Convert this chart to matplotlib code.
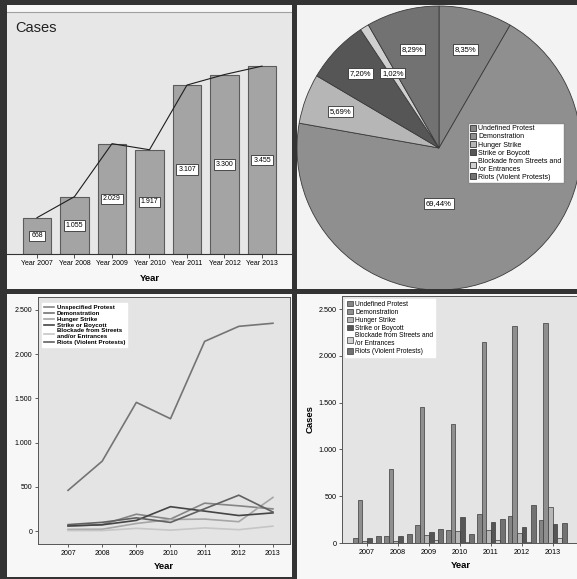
import numpy as np
import matplotlib.pyplot as plt
from matplotlib.patches import Rectangle
from matplotlib.ticker import FuncFormatter

plt.rcParams['font.family'] = ['Liberation Sans', 'DejaVu Sans']

# --- data ---
years = [2007, 2008, 2009, 2010, 2011, 2012, 2013]
year_labels = ["Year 2007", "Year 2008", "Year 2009", "Year 2010", "Year 2011", "Year 2012", "Year 2013"]
total_cases = [668, 1055, 2029, 1917, 3107, 3300, 3455]

categories = ["Undefined Protest", "Demonstration", "Hunger Strike", "Strike or Boycott",
              "Blockade from Streets and\n/or Entrances", "Riots (Violent Protests)"]
line_labels = ["Unspecified Protest", "Demonstration", "Hunger Strike", "Strike or Boycott",
               "Blockade from Streets\nand/or Entrances", "Riots (Violent Protests)"]

undefined = [55, 72, 190, 135, 315, 285, 250]
demonstration = [460, 790, 1455, 1270, 2145, 2315, 2350]
hunger = [18, 20, 85, 130, 135, 105, 380]
strike = [58, 70, 120, 275, 225, 175, 205]
blockade = [5, 5, 30, 10, 35, 15, 55]
riots = [72, 98, 149, 97, 252, 405, 215]

pie_share = [8.35, 69.44, 5.69, 7.20, 1.02, 8.29]

# --- styles ---
fill_colors = ['#858585', '#8f8f8f', '#b6b6b6', '#565656', '#d0d0d0', '#727272']
line_colors = ['#858585', '#747474', '#a6a6a6', '#444444', '#c6c6c6', '#616161']
dark = '#333333'

W, H = 577, 579
fig = plt.figure(figsize=(W / 100, H / 100), dpi=100, facecolor=dark)


def box(l, t, r, b):
    return [l / W, 1 - b / H, (r - l) / W, (b - t) / H]


def rect(l, t, r, b, color, z):
    fig.add_artist(Rectangle((l / W, 1 - b / H), (r - l) / W, (b - t) / H,
                             transform=fig.transFigure, facecolor=color,
                             edgecolor='none', zorder=z))


def thousands(v, pos=None):
    return f"{int(round(v)):,}".replace(",", ".")


# panel backgrounds
rect(7, 5, 292, 289, '#f7f7f7', -1)
rect(297, 4, 577, 289, '#f3f3f3', -1)
rect(7, 294, 292, 577, '#f7f7f7', -1)
rect(297, 294, 577, 579, '#f7f7f7', -1)

# ============================================================
# 1. total cases per year (top left)
# ============================================================
ax1 = fig.add_axes(box(7, 12, 292, 254))
ax1.set_facecolor('#e7e7e7')
x = np.arange(len(years))
ax1.bar(x, total_cases, width=0.77, color='#a4a4a4', edgecolor='#5c5c5c', linewidth=0.8)
ax1.plot(x, total_cases, color='#1e1e1e', lw=0.8)
for xi, v in zip(x, total_cases):
    ax1.text(xi, v / 2, thousands(v), ha='center', va='center', fontsize=5,
             bbox=dict(boxstyle='square,pad=0.25', fc='white', ec='#333333', lw=0.6))
ax1.set_xlim(-0.8, 6.8)
ax1.set_ylim(0, 4450)
ax1.set_xticks(x, year_labels, fontsize=5)
ax1.set_yticks([])
ax1.spines['left'].set_visible(False)
ax1.spines['right'].set_visible(False)
ax1.spines['top'].set_color('#a0a0a0')
ax1.spines['top'].set_linewidth(0.8)
ax1.spines['bottom'].set_color('#333333')
ax1.tick_params(axis='x', length=3, width=0.6, pad=1.5, color='#333333')
ax1.set_xlabel("Year", fontsize=6.8, fontweight='bold', labelpad=5)
ax1.text(0.028, 0.935, "Cases", transform=ax1.transAxes, fontsize=10.5,
         ha='left', va='center', color='#222222')

# ============================================================
# 2. share per type (top right)
# ============================================================
ax2 = fig.add_axes(box(297, 6, 581, 290))
wedges, _ = ax2.pie(pie_share, colors=fill_colors, startangle=90, counterclock=False,
                    radius=1, wedgeprops=dict(edgecolor='#3a3a3a', linewidth=0.6))
ax2.set_xlim(-1.0, 1.0)
ax2.set_ylim(-1.0, 1.0)
label_r = [0.72, 0.4, 0.74, 0.76, 0.62, 0.72]
for i, (w, share, r) in enumerate(zip(wedges, pie_share, label_r)):
    ang = np.deg2rad((w.theta1 + w.theta2) / 2)
    px, py = r * np.cos(ang), r * np.sin(ang)
    if i == 1:
        px, py = 0.0, -0.39
    ax2.text(px, py, f"{share:.2f}%".replace('.', ','), ha='center', va='center', fontsize=5.5,
             bbox=dict(boxstyle='square,pad=0.25', fc='white', ec='#333333', lw=0.6))
handles = [Rectangle((0, 0), 1, 1, fc=c, ec='#333333', lw=0.6) for c in fill_colors]
ax2.legend(handles, categories, loc='upper left', bbox_to_anchor=(0.602, 0.588),
           fontsize=5, handlelength=0.9, handleheight=0.9, handletextpad=0.3,
           labelspacing=0.12, borderpad=0.3, borderaxespad=0, fancybox=False,
           edgecolor='#888888', framealpha=1)

# ============================================================
# 3. lines per type (bottom left)
# ============================================================
all_series = [undefined, demonstration, hunger, strike, blockade, riots]
ax3 = fig.add_axes(box(38, 297, 290, 544))
ax3.set_facecolor('#e4e4e4')
for series, lab, c in zip(all_series, line_labels, line_colors):
    ax3.plot(years, series, color=c, lw=1.2, label=lab)
ax3.set_xlim(2006.12, 2013.5)
ax3.set_ylim(-147, 2647)
ax3.set_yticks(range(0, 2501, 500))
ax3.yaxis.set_major_formatter(FuncFormatter(thousands))
ax3.set_xticks(years, [str(y) for y in years])
ax3.tick_params(labelsize=5, length=2.5, width=0.6, pad=1.5, color='#444444')
for s in ax3.spines.values():
    s.set_color('#555555')
    s.set_linewidth(0.7)
ax3.set_xlabel("Year", fontsize=6.8, fontweight='bold', labelpad=4)
ax3.legend(loc='upper left', bbox_to_anchor=(0.016, 0.976),
           prop=dict(size=4.4, weight='bold'), handlelength=1.6, handletextpad=0.5,
           labelspacing=0.1, borderpad=0.3, borderaxespad=0, fancybox=False,
           edgecolor='white', framealpha=1)

# ============================================================
# 4. grouped bars per type (bottom right)
# ============================================================
ax4 = fig.add_axes(box(342, 296, 579, 543))
ax4.set_facecolor('#e4e4e4')
bw = 0.15
for i, (series, c, cat) in enumerate(zip(all_series, fill_colors, categories)):
    ax4.bar(x + (i - 2.5) * bw, series, width=bw, color=c, edgecolor='#3a3a3a',
            linewidth=0.5, label=cat)
ax4.set_xlim(-0.81, 6.85)
ax4.set_ylim(0, 2639)
ax4.set_yticks(range(0, 2501, 500))
ax4.yaxis.set_major_formatter(FuncFormatter(thousands))
ax4.set_xticks(x, [str(y) for y in years])
ax4.tick_params(labelsize=5.2, length=2.5, width=0.6, pad=1.5, color='#444444')
for s in ax4.spines.values():
    s.set_color('#555555')
    s.set_linewidth(0.7)
ax4.set_xlabel("Year", fontsize=6.8, fontweight='bold', labelpad=4)
ax4.set_ylabel("Cases", fontsize=6.8, fontweight='bold', labelpad=3)
ax4.legend(loc='upper left', bbox_to_anchor=(0.013, 0.988), fontsize=4.8,
           handlelength=0.9, handleheight=0.9, handletextpad=0.3, labelspacing=0.12,
           borderpad=0.3, borderaxespad=0, fancybox=False, edgecolor='white', framealpha=1)

# dark frame between the panels
rect(0, 0, W, 5, dark, 10)
rect(0, 0, 7, H, dark, 10)
rect(292, 0, 297, H, dark, 10)
rect(0, 289, W, 294, dark, 10)

fig.savefig("out.png", dpi=100, facecolor=dark)
